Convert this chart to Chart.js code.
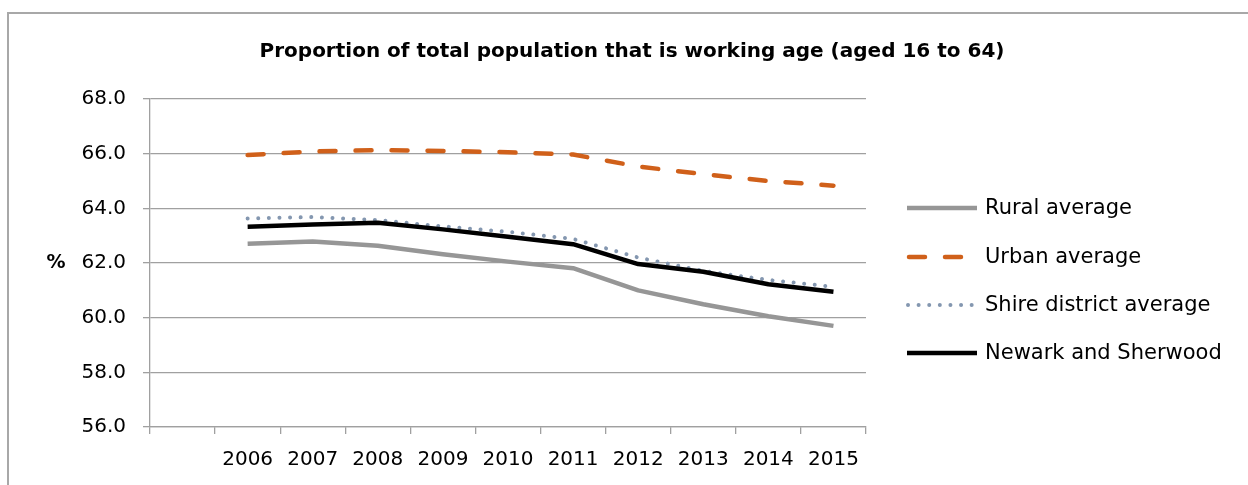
<!DOCTYPE html>
<html><head><meta charset="utf-8">
<script src="https://cdn.jsdelivr.net/npm/chart.js@4.4.0/dist/chart.umd.min.js"></script>
<style>
html,body{margin:0;padding:0;background:#fff;overflow:hidden;}
canvas{display:block;}
</style></head>
<body><canvas id="c" width="1248" height="485"></canvas>
<script>
const chartTitle = 'Proportion of total population that is working age (aged 16 to 64)';
const categories = ['2006','2007','2008','2009','2010','2011','2012','2013','2014','2015'];
const ruralAverage   = [62.70, 62.79, 62.63, 62.32, 62.05, 61.81, 61.00, 60.49, 60.05, 59.70];
const urbanAverage   = [65.95, 66.08, 66.13, 66.10, 66.05, 65.97, 65.53, 65.25, 65.00, 64.83];
const shireAverage   = [63.63, 63.68, 63.57, 63.34, 63.14, 62.88, 62.20, 61.71, 61.38, 61.13];
const newarkSherwood = [63.33, 63.41, 63.47, 63.23, 62.96, 62.69, 61.96, 61.68, 61.22, 60.95];
const yTicks = [56, 58, 60, 62, 64, 66, 68];
const seriesNames = ['Rural average', 'Urban average', 'Shire district average', 'Newark and Sherwood'];

const FONT = 'DejaVu Sans';
const GRID = '#a0a0a0';
const labels = [''].concat(categories);
const pad = arr => [null].concat(arr);

const styles = [
  {color:'#969696', width:4.5, dash:[], cap:'butt'},
  {color:'#D0601A', width:4.5, dash:[16,20], cap:'round'},
  {color:'#8497B0', width:4, dash:[0.01,10.6], cap:'round'},
  {color:'#000000', width:4.5, dash:[], cap:'butt'}
];
const values = [ruralAverage, urbanAverage, shireAverage, newarkSherwood];

const datasets = values.map((v,i)=>({
  label: seriesNames[i],
  data: pad(v),
  borderColor: styles[i].color,
  backgroundColor: styles[i].color,
  borderWidth: styles[i].width,
  borderDash: styles[i].dash,
  borderCapStyle: styles[i].cap,
  borderJoinStyle: 'round',
  pointRadius: 0,
  pointHoverRadius: 0,
  tension: 0,
  fill: false,
  order: 3 - i
}));

const decor = {
  id: 'decor',
  beforeDraw(chart){
    const ctx = chart.ctx;
    ctx.save();
    ctx.fillStyle = '#fff';
    ctx.fillRect(0, 0, chart.width, chart.height);
    ctx.strokeStyle = '#a8a8a8';
    ctx.lineWidth = 2;
    ctx.beginPath();
    ctx.moveTo(8, 486);
    ctx.lineTo(8, 13);
    ctx.lineTo(1250, 13);
    ctx.stroke();
    ctx.restore();
  },
  afterDraw(chart){
    const ctx = chart.ctx;
    ctx.save();
    ctx.fillStyle = '#000';
    ctx.textBaseline = 'middle';
    ctx.textAlign = 'center';
    ctx.font = 'bold 20px "' + FONT + '"';
    ctx.fillText(chartTitle, 632, 52);
    ctx.font = 'bold 19px "' + FONT + '"';
    ctx.fillText('%', 56, 263);
    // legend
    ctx.textAlign = 'left';
    ctx.font = '21px "' + FONT + '"';
    const rows = [208, 257, 305, 353];
    seriesNames.forEach((name, i) => {
      const s = styles[i];
      ctx.save();
      ctx.strokeStyle = s.color;
      ctx.lineWidth = s.width;
      ctx.lineCap = s.cap;
      ctx.setLineDash(s.dash);
      ctx.beginPath();
      if (i === 1) { ctx.moveTo(909, rows[i]); ctx.lineTo(977, rows[i]); }
      else if (i === 2) { ctx.moveTo(908, rows[i]); ctx.lineTo(978, rows[i]); }
      else { ctx.moveTo(907, rows[i]); ctx.lineTo(977, rows[i]); }
      ctx.stroke();
      ctx.restore();
      ctx.fillText(name, 985, rows[i] + 1);
    });
    ctx.restore();
  }
};

new Chart(document.getElementById('c'), {
  type: 'line',
  data: { labels, datasets },
  options: {
    responsive: false,
    animation: false,
    events: [],
    layout: { padding: { left: 0, top: 99, right: 382, bottom: 0 } },
    plugins: { legend: { display: false }, title: { display: false }, tooltip: { enabled: false } },
    scales: {
      x: {
        offset: true,
        grid: { offset: true, drawOnChartArea: false, drawTicks: true, tickLength: 7, color: GRID, lineWidth: 1.3 },
        border: { color: GRID, width: 1.3 },
        ticks: { font: { family: FONT, size: 20 }, color: '#000', padding: 14, maxRotation: 0, autoSkip: false },
        afterFit(s){ s.height = 58; }
      },
      y: {
        min: 56, max: 68,
        afterBuildTicks(s){ s.ticks = yTicks.map(v => ({ value: v })); },
        grid: { color: GRID, lineWidth: 1.3, tickLength: 7, drawTicks: true },
        border: { color: GRID, width: 1.3 },
        ticks: { font: { family: FONT, size: 20 }, color: '#000', padding: 17, callback: v => Number(v).toFixed(1) },
        afterFit(s){ s.width = 150; }
      }
    }
  },
  plugins: [decor]
});
</script>
</body></html>
